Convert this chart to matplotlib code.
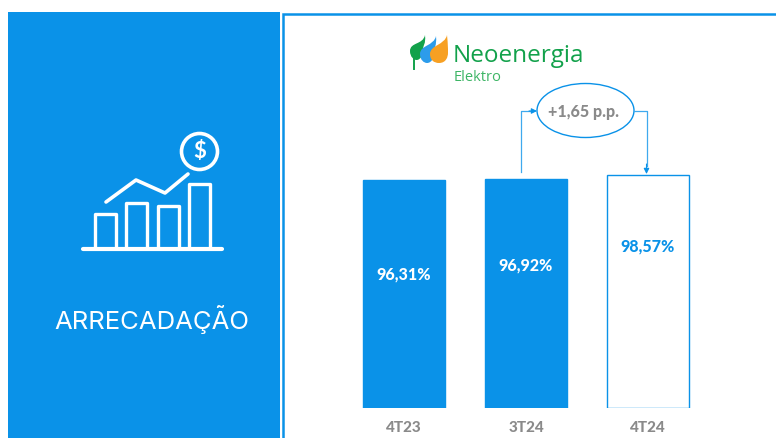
import matplotlib
matplotlib.use('Agg')
import matplotlib.pyplot as plt
from matplotlib.patches import Rectangle, Ellipse, PathPatch
from matplotlib.path import Path

periods = ['4T23', '3T24', '4T24']
values = [96.31, 96.92, 98.57]
value_labels = ['96,31%', '96,92%', '98,57%']
delta_label = '+1,65 p.p.'
panel_title = 'ARRECADAÇÃO'

BLUE = '#0A92E8'
GREY = '#8A8A8A'
GREEN = '#12A14B'
W, H = 776, 438

plt.rcParams['font.family'] = ['Lato', 'DejaVu Sans']

fig = plt.figure(figsize=(W / 100, H / 100), dpi=100)

# background layer in pixel coordinates
bg = fig.add_axes([0, 0, 1, 1])
bg.set_xlim(0, W)
bg.set_ylim(H, 0)
bg.axis('off')

bg.add_patch(Rectangle((8, 12), 272, 426, color=BLUE, lw=0))
bg.plot([282.5, 282.5, W], [H, 13.5, 13.5], color=BLUE, lw=1.8, solid_joinstyle='miter')

# icon on the left panel
for x0, x1, top in [(95, 116, 214), (126, 147, 203), (158, 179, 206), (189, 210, 184)]:
    bg.plot([x0, x0, x1, x1], [248, top, top, 248], color='white', lw=2.4, solid_joinstyle='round')
bg.plot([83, 222], [249, 249], color='white', lw=3, solid_capstyle='round')
bg.plot([106, 136, 165, 188], [202, 180, 193, 174], color='white', lw=2.6,
        solid_capstyle='round', solid_joinstyle='round')
bg.add_patch(Ellipse((199.5, 151.5), 36, 36, fc='none', ec='white', lw=2.6))
bg.text(199.5, 152, '$', color='white', fontsize=16, fontweight='bold', ha='center', va='center')

bg.text(152, 320, panel_title, color='white', fontsize=18.5, family='Inter',
        ha='center', va='center')


def leaf(tip, left, bottom, right, color):
    # teardrop: tip at top right, belly at lower left
    verts = [tip,
             (tip[0] - 2, tip[1] + 10), (left, bottom - 18), (left, bottom - 9),
             (left, bottom - 3), (left + 4, bottom), ((left + right) / 2, bottom),
             (right - 2, bottom), (right, bottom - 6), (right, bottom - 10),
             (right, bottom - 16), (tip[0] + 1, tip[1] + 10), tip]
    codes = [Path.MOVETO] + [Path.CURVE4] * 12
    bg.add_patch(PathPatch(Path(verts, codes), fc=color, lw=0))


# logo
leaf((425, 35), 410, 60, 423, GREEN)
bg.plot([414, 414], [58, 69], color=GREEN, lw=1.4)
leaf((436, 36), 420, 63, 434, '#2C9CEB')
leaf((447, 35), 430, 63, 448, '#F7A023')
bg.text(453, 62, 'Neoenergia', color=GREEN, fontsize=17.5, family='Open Sans', fontweight='medium',
        ha='left', va='baseline')
bg.text(454, 81, 'Elektro', color='#3DB565', fontsize=10.5, family='Open Sans', fontweight='medium',
        ha='left', va='baseline')

# chart, zero based, 2.36 px per unit
px_unit = 2.36
ax_left, ax_right = 343, 709
ax_bottom = 407.5
ax_top = 150
ax = fig.add_axes([ax_left / W, 1 - ax_bottom / H, (ax_right - ax_left) / W, (ax_bottom - ax_top) / H])
ax.patch.set_alpha(0)
ax.set_xlim(-0.5, 2.5)
ax.set_ylim(0, (ax_bottom - ax_top) / px_unit)
for s in ax.spines.values():
    s.set_visible(False)
ax.set_yticks([])
ax.set_xticks(range(len(periods)))
ax.set_xticklabels(periods, color=GREY, fontsize=11, fontweight='black')
ax.tick_params(axis='x', length=0, pad=10)

colors = [BLUE, BLUE, 'white']
ax.bar(range(len(values)), values, width=0.68, color=colors, edgecolor=BLUE, linewidth=1)
label_frac = [0.587, 0.619, 0.694]
label_colors = ['white', 'white', BLUE]
for i, (v, lab) in enumerate(zip(values, value_labels)):
    ax.text(i, v * label_frac[i], lab, color=label_colors[i],
            fontsize=11.5, fontweight='black', ha='center', va='center')

# delta bubble and arrows
ARROW = '#3FA9EE'
bg.set_zorder(0)
ax.set_zorder(1)
bg.plot([520.5, 520.5, 531], [172, 111, 111], color=ARROW, lw=0.9)
bg.annotate('', xy=(537, 111), xytext=(529, 111),
            arrowprops=dict(arrowstyle='-|>', color=BLUE, lw=0.8, mutation_scale=8, shrinkA=0, shrinkB=0))
bg.plot([634, 646.5, 646.5], [111, 111, 166], color=ARROW, lw=0.9)
bg.annotate('', xy=(646.5, 174), xytext=(646.5, 164),
            arrowprops=dict(arrowstyle='-|>', color=BLUE, lw=0.8, mutation_scale=8, shrinkA=0, shrinkB=0))
bg.add_patch(Ellipse((585.5, 110.5), 97, 54, fc='white', ec=BLUE, lw=1))
bg.text(584, 112, delta_label, color=GREY, fontsize=11.5, fontweight='black', ha='center', va='center')

fig.savefig('out.png', dpi=100)
